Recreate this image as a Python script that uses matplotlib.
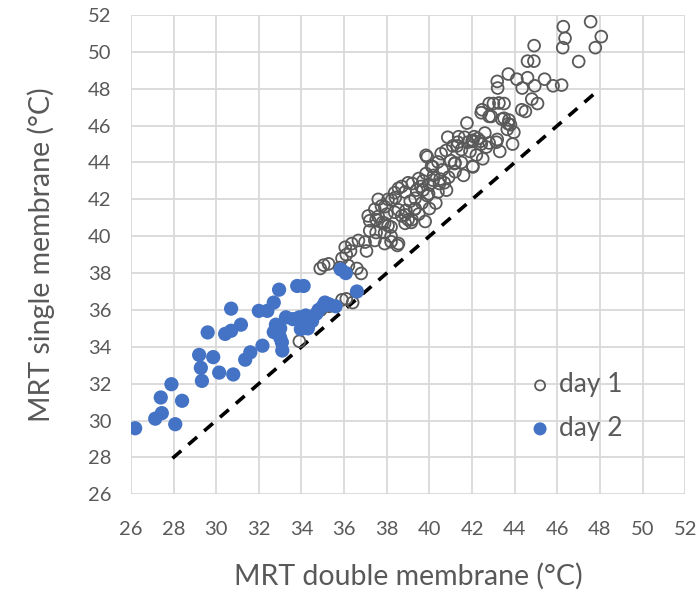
import matplotlib
matplotlib.use("Agg")
import matplotlib.pyplot as plt

# day 1 (open circles)
day1_x = [47.56, 48.06, 47.78, 46.28, 46.36, 46.25, 47.0, 44.91, 44.6, 44.9,
          43.7, 43.18, 43.2, 44.1, 44.6, 44.35, 44.94, 45.4, 45.8, 46.2,
          44.8, 45.07, 44.5, 44.33, 42.47, 42.8, 43.0, 43.26, 43.5, 42.9,
          43.5, 43.73, 43.8, 43.65, 43.18, 42.8, 42.4, 42.0, 41.76, 41.37,
          41.1, 42.03, 41.2, 42.43, 42.8, 43.4, 43.7, 43.96, 40.86, 41.33,
          41.65, 42.04, 42.27, 42.43, 42.67, 43.14, 39.84, 40.55, 40.78, 41.18,
          42.04, 40.16, 40.4, 39.84, 39.5, 39.2, 40.16, 40.47, 38.55, 38.86,
          39.7, 39.96, 39.33, 39.65, 38.23, 37.9, 38.55, 38.86, 39.18, 37.6,
          37.9, 38.2, 39.33, 37.9, 38.2, 38.55, 38.86, 35.04, 35.27, 34.88,
          35.9, 36.1, 36.3, 36.05, 36.36, 36.67, 35.8, 36.2, 36.6, 36.8,
          37.05, 36.98, 37.44, 37.9, 38.2, 38.5, 37.2, 37.5, 37.2, 37.13,
          37.5, 37.8, 38.06, 37.44, 37.75, 37.6, 38.37, 38.7, 39.0, 38.06,
          38.37, 38.7, 39.0, 39.4, 39.15, 39.3, 35.9, 36.1, 33.9, 40.1,
          40.2, 40.5, 39.7, 40.0, 39.9, 40.4, 40.8, 39.5, 40.0, 39.8,
          39.9, 41.0, 41.5, 41.3, 41.8, 40.6, 40.9, 41.2, 41.6, 42.2,
          42.5, 42.1, 41.9, 40.3, 39.1, 38.9, 38.4, 38.0, 39.6, 40.7,
          43.3, 43.9, 42.6, 41.5, 36.4, 34.9, 35.3]
day1_y = [51.64, 50.83, 50.23, 51.37, 50.74, 50.23, 49.48, 50.34, 49.5, 49.5,
          48.8, 48.4, 48.04, 48.52, 48.6, 48.04, 48.16, 48.52, 48.16, 48.2,
          47.44, 47.2, 46.77, 46.86, 46.86, 47.2, 47.2, 47.23, 47.2, 46.5,
          46.4, 46.3, 46.05, 45.8, 45.25, 45.06, 45.15, 45.15, 46.14, 45.4,
          44.9, 43.8, 43.98, 46.7, 46.5, 46.35, 46.1, 45.64, 45.37, 45.1,
          45.37, 45.2, 45.3, 45.0, 44.84, 45.1, 44.39, 44.48, 44.65, 43.94,
          43.76, 43.76, 44.03, 43.4, 43.13, 42.86, 43.04, 42.86, 42.6, 42.4,
          42.5, 42.3, 42.06, 41.8, 41.97, 41.6, 41.43, 41.16, 40.9, 41.07,
          40.7, 40.5, 41.5, 40.2, 40.0, 39.6, 40.7, 38.43, 38.5, 38.25,
          38.8, 39.0, 39.2, 39.4, 39.6, 39.77, 38.3, 38.4, 38.25, 37.98,
          39.2, 39.68, 39.77, 39.6, 39.7, 39.5, 40.3, 40.2, 40.84, 41.1,
          40.9, 40.75, 40.57, 41.46, 41.64, 42.0, 41.3, 41.1, 40.9, 42.0,
          42.36, 42.7, 42.9, 42.5, 40.75, 41.46, 36.55, 36.6, 34.3, 43.8,
          43.3, 43.1, 43.0, 42.8, 42.2, 42.4, 42.5, 41.2, 41.5, 40.8,
          44.3, 44.1, 44.0, 44.9, 45.1, 43.6, 43.2, 43.5, 43.3, 44.4,
          44.2, 45.4, 44.6, 41.8, 41.9, 41.4, 42.1, 41.2, 42.7, 42.9,
          44.6, 45.0, 45.6, 44.7, 36.4, 36.0, 36.2]

# day 2 (filled blue)
day2_x = [26.2, 27.14, 27.45, 28.08, 27.4, 27.9, 28.4, 29.2, 29.28, 29.33,
          29.86, 29.6, 30.14, 30.8, 30.42, 30.7, 31.16, 30.7, 31.36, 31.6,
          32.17, 32.0, 32.4, 32.7, 32.95, 32.8, 32.7, 33.08, 33.1, 33.27,
          33.6, 33.8, 34.1, 33.97, 34.2, 34.5, 34.8, 35.1, 35.6, 35.84,
          36.08, 36.6, 33.0, 33.0, 34.0, 34.3, 35.3, 35.0, 34.7, 33.9]
day2_y = [29.58, 30.1, 30.4, 29.8, 31.25, 31.97, 31.07, 33.56, 32.86, 32.15,
          33.44, 34.78, 32.6, 32.5, 34.7, 34.87, 35.2, 36.07, 33.3, 33.7,
          34.06, 35.95, 35.95, 36.4, 37.1, 35.2, 34.8, 34.24, 33.8, 35.6,
          35.5, 37.3, 37.3, 34.96, 35.7, 35.4, 36.0, 36.4, 36.2, 38.2,
          38.0, 37.0, 34.5, 35.0, 35.3, 35.0, 36.3, 36.2, 35.8, 35.6]

# 1:1 reference line
line_x = [27.95, 47.7]
line_y = [27.95, 47.7]

ticks = list(range(26, 53, 2))
grey = "#595959"

plt.rcParams["font.family"] = ["Lato", "DejaVu Sans"]

fig = plt.figure(figsize=(7, 6.02), dpi=100)
ax = fig.add_axes([0.187, 0.179, 0.792, 0.796])

ax.plot(line_x, line_y, color="black", lw=2.6, ls=(0, (3.2, 2.6)), zorder=2)
ax.scatter(day1_x, day1_y, s=72, facecolors="none", edgecolors=grey,
           linewidths=1.3, label="day 1", zorder=3)
ax.scatter(day2_x, day2_y, s=105, color="#4472C4", edgecolors="none",
           label="day 2", zorder=4)

ax.set_xlim(26, 52)
ax.set_ylim(26, 52)
ax.set_xticks(ticks)
ax.set_yticks(ticks)
ax.grid(True, color="#d9d9d9", lw=1.3)
ax.set_axisbelow(True)
for s in ax.spines.values():
    s.set_visible(False)
ax.tick_params(length=0, labelsize=14.5, colors=grey)
ax.tick_params(axis="x", pad=19)
ax.tick_params(axis="y", pad=14)

ax.set_xlabel("MRT double membrane (°C)", fontsize=20.5, color=grey, labelpad=18)
ax.set_ylabel("MRT single membrane (°C)", fontsize=20.5, color=grey, labelpad=24)

leg = ax.legend(loc="center left", bbox_to_anchor=(0.719, 0.183), frameon=False,
                fontsize=19, labelcolor=grey, handlelength=0.8,
                handletextpad=0.32, labelspacing=0.7, borderpad=0,
                borderaxespad=0)
leg.legend_handles[0].set_sizes([52])
leg.legend_handles[1].set_sizes([88])

fig.savefig("out.png", dpi=100)
